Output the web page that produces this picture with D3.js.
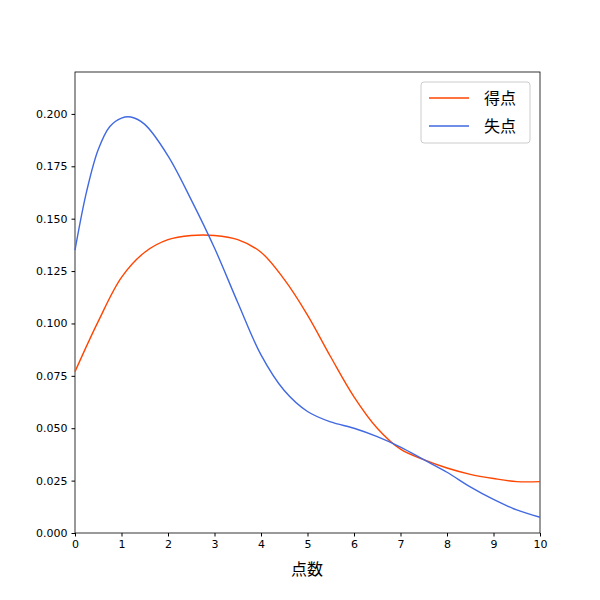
<!DOCTYPE html>
<html><head><meta charset="utf-8">
<script src="https://cdn.jsdelivr.net/npm/d3@7"></script>
<style>body{margin:0;background:#fff}text{font-family:"DejaVu Sans",sans-serif}</style>
</head><body><svg id="c" width="600" height="600"></svg>
<script>
var xs = [0,0.5,1,1.5,2,2.5,3,3.5,4,4.5,5,5.5,6,6.5,7,7.5,8,8.5,9,9.5,10];
var tokuten = [0.077,0.101,0.122,0.134,0.140,0.142,0.142,0.140,0.134,0.121,0.104,0.084,0.065,0.050,0.040,0.035,0.031,0.028,0.026,0.0245,0.0245];
var xsLoss = [0,0.25,0.5,0.75,1,1.2,1.5,2,2.5,3,3.5,4,4.5,5,5.5,6,6.5,7,7.5,8,8.5,9,9.5,10];
var shitten = [0.135,0.163,0.183,0.194,0.198,0.1985,0.195,0.180,0.159,0.136,0.110,0.085,0.068,0.058,0.053,0.050,0.046,0.041,0.035,0.029,0.022,0.016,0.011,0.0075];
var xTicks = d3.range(0,11);
var yTicks = [0,0.025,0.05,0.075,0.1,0.125,0.15,0.175,0.2];

var svg = d3.select('#c');
var x = d3.scaleLinear().domain([0,10]).range([75,540]);
var y = d3.scaleLinear().domain([0,0.22]).range([533,72]);

var ax = svg.append('g').attr('transform','translate(0,533)')
    .call(d3.axisBottom(x).tickValues(xTicks).tickSize(3.5).tickPadding(4));
var ay = svg.append('g').attr('transform','translate(75,0)')
    .call(d3.axisLeft(y).tickValues(yTicks).tickFormat(d3.format('.3f')).tickSize(3.5).tickPadding(4));
[ax,ay].forEach(function(a){
    a.select('.domain').remove();
    a.selectAll('text').attr('font-size',11).attr('fill','#000').style('font-family','"DejaVu Sans"');
    a.selectAll('line').attr('stroke','#000');
});
svg.append('rect').attr('x',75).attr('y',72).attr('width',465).attr('height',461)
    .attr('fill','none').attr('stroke','#000').attr('stroke-width',0.8);

var line = d3.line().curve(d3.curveCatmullRom.alpha(0.5));
svg.append('path').attr('d', line(xs.map(function(v,i){return [x(v),y(tokuten[i])];})))
    .attr('fill','none').attr('stroke','#ff4500').attr('stroke-width',1.4);
svg.append('path').attr('d', line(xsLoss.map(function(v,i){return [x(v),y(shitten[i])];})))
    .attr('fill','none').attr('stroke','#4169e1').attr('stroke-width',1.4);

svg.append('text').attr('x',307).attr('y',575).attr('text-anchor','middle')
    .attr('font-size',16).style('font-family','"Noto Sans CJK JP"').text('点数');

var lg = svg.append('g');
lg.append('rect').attr('x',421).attr('y',82).attr('width',109).attr('height',61).attr('rx',3)
    .attr('fill','#fff').attr('stroke','#ccc');
[['得点','#ff4500'],['失点','#4169e1']].forEach(function(d,i){
    var yy = 98 + i*28;
    lg.append('line').attr('x1',429).attr('x2',469).attr('y1',yy).attr('y2',yy)
        .attr('stroke',d[1]).attr('stroke-width',1.4);
    lg.append('text').attr('x',484).attr('y',yy+6).attr('font-size',16)
        .style('font-family','"Noto Sans CJK JP"').text(d[0]);
});
</script></body></html>
